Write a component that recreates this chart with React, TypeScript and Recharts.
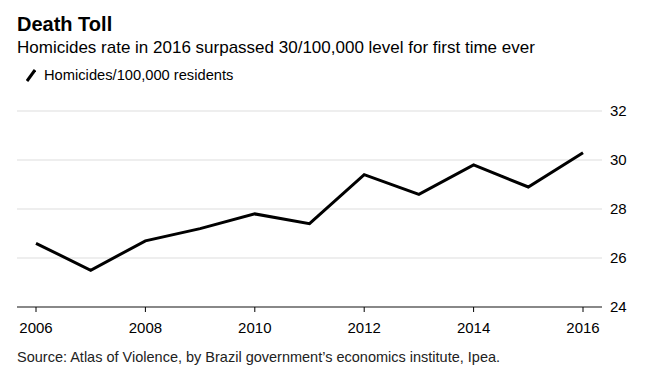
import { LineChart, Line, XAxis, YAxis, CartesianGrid } from "recharts";

const years = [2006, 2007, 2008, 2009, 2010, 2011, 2012, 2013, 2014, 2015, 2016];
const homicides = [26.6, 25.5, 26.7, 27.2, 27.8, 27.4, 29.4, 28.6, 29.8, 28.9, 30.3];
const xTicks = [2006, 2008, 2010, 2012, 2014, 2016];
const yTicks = [24, 26, 28, 30, 32];

const data = years.map((year, i) => ({ year, rate: homicides[i] }));

const font = "'Liberation Sans', Arial, sans-serif";

export default function App() {
  return (
    <div
      style={{
        position: "absolute",
        left: 0,
        top: 0,
        width: 652,
        height: 376,
        background: "#fff",
        fontFamily: font,
        color: "#000",
      }}
    >
      <div style={{ position: "absolute", left: 17, top: 13, fontSize: 20, fontWeight: 700 }}>
        Death Toll
      </div>
      <div style={{ position: "absolute", left: 17, top: 38, fontSize: 17, whiteSpace: "nowrap" }}>
        Homicides rate in 2016 surpassed 30/100,000 level for first time ever
      </div>
      <div
        style={{
          position: "absolute",
          left: 26,
          top: 66,
          fontSize: 14.7,
          whiteSpace: "nowrap",
          display: "flex",
          alignItems: "flex-end",
        }}
      >
        <svg width={10} height={17} style={{ marginRight: 8 }}>
          <line x1={1} y1={15} x2={9} y2={4} stroke="#000" strokeWidth={3} />
        </svg>
        Homicides/100,000 residents
      </div>
      <div style={{ position: "absolute", left: 0, top: 0 }}>
        <LineChart width={652} height={340} data={data} margin={{ top: 111, right: 0, left: 17, bottom: 0 }}>
          <CartesianGrid vertical={false} stroke="#ddd" strokeWidth={1} />
          <XAxis
            dataKey="year"
            type="number"
            domain={[2006, 2016]}
            ticks={xTicks}
            padding={{ left: 19, right: 19 }}
            height={33}
            axisLine={{ stroke: "#888", strokeWidth: 2 }}
            tickLine={{ stroke: "#000" }}
            tickSize={5}
            tickMargin={10}
            tick={{ fill: "#000", fontSize: 15, fontFamily: font }}
          />
          <YAxis
            orientation="right"
            domain={[24, 32]}
            ticks={yTicks}
            width={50}
            axisLine={false}
            tickLine={false}
            tick={{ fill: "#000", fontSize: 15, fontFamily: font }}
          />
          <Line
            type="linear"
            dataKey="rate"
            stroke="#000"
            strokeWidth={3}
            dot={false}
            isAnimationActive={false}
          />
        </LineChart>
      </div>
      <div style={{ position: "absolute", left: 17, top: 349, fontSize: 14.5, color: "#222", whiteSpace: "nowrap" }}>
        Source: Atlas of Violence, by Brazil government’s economics institute, Ipea.
      </div>
    </div>
  );
}
